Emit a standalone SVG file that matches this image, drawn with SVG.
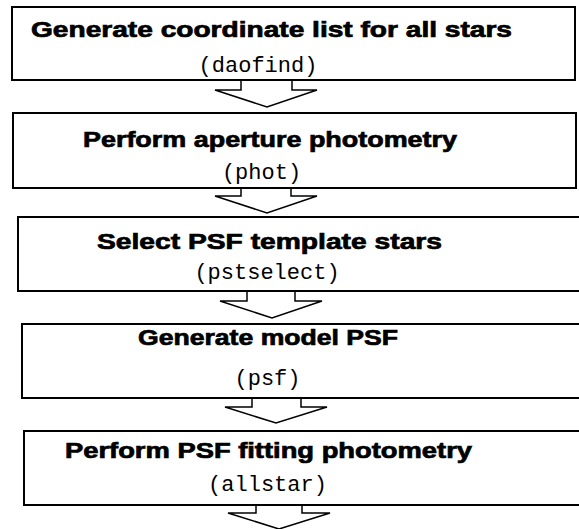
<svg xmlns="http://www.w3.org/2000/svg" width="579" height="529" viewBox="0 0 579 529">
<style>
.box{fill:#fff;stroke:#000;stroke-width:2}
.arr{fill:#fff;stroke:#000;stroke-width:1.5;stroke-linejoin:miter}
.t{font-family:"Liberation Sans",Arial,sans-serif;font-weight:bold;font-size:22px;fill:#000;stroke:#000;stroke-width:0.7;text-anchor:middle}
.m{font-family:"Liberation Mono","Courier New",monospace;font-size:22px;fill:#000;text-anchor:middle}
</style>
<rect width="579" height="529" fill="#fff"/>
<g id="n1">
<rect class="box" x="12" y="7" width="563" height="73"/>
<text class="t" x="271.5" y="37" textLength="481" lengthAdjust="spacingAndGlyphs">Generate coordinate list for all stars</text>
<text class="m" x="258" y="72">(daofind)</text>
</g>
<g id="n2">
<rect class="box" x="13" y="113" width="563" height="75"/>
<text class="t" x="270" y="147" textLength="374" lengthAdjust="spacingAndGlyphs">Perform aperture photometry</text>
<text class="m" x="261.5" y="179">(phot)</text>
</g>
<g id="n3">
<rect class="box" x="18" y="217" width="565" height="74"/>
<text class="t" x="269.5" y="249" textLength="345" lengthAdjust="spacingAndGlyphs">Select PSF template stars</text>
<text class="m" x="267" y="279">(pstselect)</text>
</g>
<g id="n4">
<rect class="box" x="22" y="324" width="565" height="74"/>
<text class="t" x="268" y="345" textLength="260" lengthAdjust="spacingAndGlyphs">Generate model PSF</text>
<text class="m" x="267.5" y="385">(psf)</text>
</g>
<g id="n5">
<rect class="box" x="24" y="431" width="565" height="74"/>
<text class="t" x="268.5" y="458" textLength="407" lengthAdjust="spacingAndGlyphs">Perform PSF fitting photometry</text>
<text class="m" x="267.5" y="491">(allstar)</text>
</g>
<g id="connectors">
<polyline class="arr" points="241,81 241,90 215,90 267,107 317,90 292,90 292,81"/>
<polyline class="arr" points="241,189 241,196 215,196 267,213 317,196 291,196 291,189"/>
<polyline class="arr" points="247,292 247,301 220,301 272,318 322,301 295,301 295,292"/>
<polyline class="arr" points="252,399 252,407 225,407 276,423 327,407 301,407 301,399"/>
<polyline class="arr" points="256,506 256,513 228,513 279,529 330,513 302,513 302,506"/>
</g>
</svg>
